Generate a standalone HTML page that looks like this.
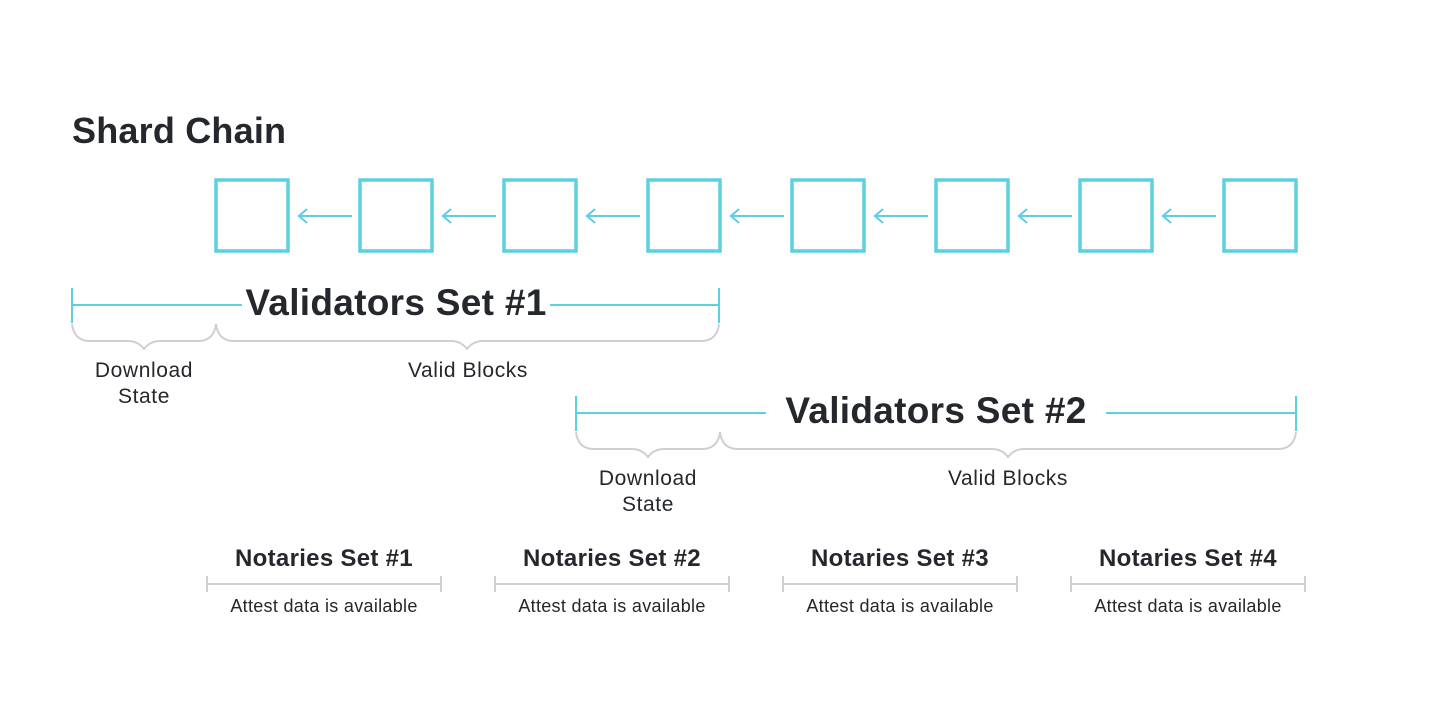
<!DOCTYPE html>
<html><head><style>
body{margin:0;width:1440px;height:720px;background:#fff;overflow:hidden}
svg text{font-family:"Liberation Sans",sans-serif;fill:#24272b}
</style></head><body>
<svg width="1440" height="720" viewBox="0 0 1440 720">
<text x="72" y="143" font-size="36" font-weight="bold" letter-spacing="0.2">Shard Chain</text>
<g fill="none" stroke="#5ccfe2" stroke-width="3.5">
<rect x="216" y="180" width="72" height="71"/>
<rect x="360" y="180" width="72" height="71"/>
<rect x="504" y="180" width="72" height="71"/>
<rect x="648" y="180" width="72" height="71"/>
<rect x="792" y="180" width="72" height="71"/>
<rect x="936" y="180" width="72" height="71"/>
<rect x="1080" y="180" width="72" height="71"/>
<rect x="1224" y="180" width="72" height="71"/>
</g>
<g fill="none" stroke="#5ccfe2" stroke-width="2">
<path d="M298 216H352M307 209L299 216L307 223"/>
<path d="M442 216H496M451 209L443 216L451 223"/>
<path d="M586 216H640M595 209L587 216L595 223"/>
<path d="M730 216H784M739 209L731 216L739 223"/>
<path d="M874 216H928M883 209L875 216L883 223"/>
<path d="M1018 216H1072M1027 209L1019 216L1027 223"/>
<path d="M1162 216H1216M1171 209L1163 216L1171 223"/>
<path d="M72 288V323M72 305H242M550 305H719M719 288V323"/>
<path d="M576 396V431M576 413H766M1106 413H1296M1296 396V431"/>
</g>
<g fill="none" stroke="#d0d0d0" stroke-width="2">
<path d="M72 324Q74 341 90 341H128Q138 341 144 349Q150 341 160 341H198Q214 341 216 324Q218 341 234 341H451Q461 341 467 349Q473 341 483 341H701Q717 341 719 324"/>
<path d="M576 432Q578 449 594 449H632Q642 449 648 457Q654 449 664 449H702Q718 449 720 432Q722 449 738 449H992Q1002 449 1008 457Q1014 449 1024 449H1278Q1294 449 1296 432"/>
<path d="M207 576V592M207 584H441M441 576V592"/>
<path d="M495 576V592M495 584H729M729 576V592"/>
<path d="M783 576V592M783 584H1017M1017 576V592"/>
<path d="M1071 576V592M1071 584H1305M1305 576V592"/>
</g>
<g font-weight="bold" text-anchor="middle">
<text x="396" y="315" font-size="37" letter-spacing="0.3">Validators Set #1</text>
<text x="936" y="423" font-size="37" letter-spacing="0.3">Validators Set #2</text>
<text x="324" y="566" font-size="24" letter-spacing="0.3">Notaries Set #1</text>
<text x="612" y="566" font-size="24" letter-spacing="0.3">Notaries Set #2</text>
<text x="900" y="566" font-size="24" letter-spacing="0.3">Notaries Set #3</text>
<text x="1188" y="566" font-size="24" letter-spacing="0.3">Notaries Set #4</text>
</g>
<g text-anchor="middle" font-size="21" letter-spacing="0.6">
<text x="144" y="377">Download</text><text x="144" y="403">State</text>
<text x="468" y="377">Valid Blocks</text>
<text x="648" y="485">Download</text><text x="648" y="511">State</text>
<text x="1008" y="485">Valid Blocks</text>
</g>
<g text-anchor="middle" font-size="18" letter-spacing="0.3">
<text x="324" y="612">Attest data is available</text>
<text x="612" y="612">Attest data is available</text>
<text x="900" y="612">Attest data is available</text>
<text x="1188" y="612">Attest data is available</text>
</g>
</svg>
</body></html>
